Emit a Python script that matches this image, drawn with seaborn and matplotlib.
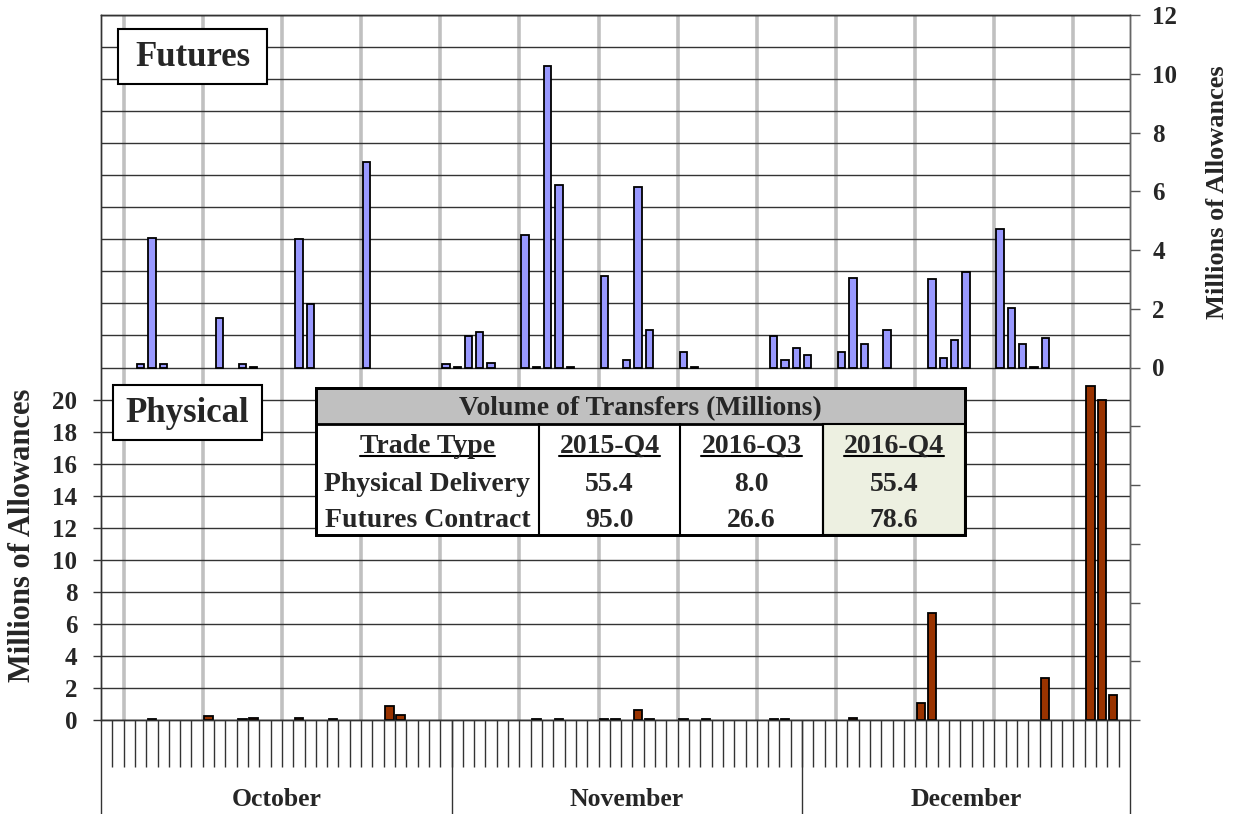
import pandas as pd
import matplotlib
matplotlib.use("Agg")
import matplotlib.pyplot as plt
import seaborn as sns
from matplotlib.patches import Rectangle
from matplotlib.lines import Line2D

# day index 0 = first category of October, 91 daily categories in total
futures_days = [3, 4, 5, 10, 12, 13, 17, 18, 23, 30, 31, 32, 33, 34, 37, 38, 39, 40, 41,
                44, 46, 47, 48, 51, 52, 59, 60, 61, 62, 65, 66, 67, 69, 73, 74, 75, 76,
                79, 80, 81, 82, 83]
futures_vals = [0.12, 4.4, 0.12, 1.67, 0.12, 0.03, 4.38, 2.17, 7.0, 0.12, 0.03, 1.08, 1.21,
                0.15, 4.5, 0.03, 10.26, 6.2, 0.02, 3.13, 0.26, 6.13, 1.26, 0.52, 0.02, 1.08,
                0.24, 0.67, 0.42, 0.53, 3.04, 0.81, 1.28, 3.0, 0.33, 0.94, 3.24, 4.7, 2.02,
                0.81, 0.02, 1.02]
physical_days = [4, 9, 12, 13, 17, 20, 25, 26, 38, 40, 44, 45, 47, 48, 51, 53, 59, 60,
                 66, 72, 73, 83, 87, 88, 89]
physical_vals = [0.05, 0.25, 0.05, 0.1, 0.1, 0.05, 0.9, 0.33, 0.05, 0.05, 0.05, 0.05, 0.62,
                 0.05, 0.05, 0.05, 0.05, 0.05, 0.1, 1.04, 6.69, 2.64, 20.85, 19.95, 1.54]

month_names = ["October", "November", "December"]
month_sizes = [31, 31, 29]

# summary table
table_title = "Volume of Transfers (Millions)"
table_cols = ["Trade Type", "2015-Q4", "2016-Q3", "2016-Q4"]
table_rows = ["Physical Delivery", "Futures Contract"]
physical_delivery = ["55.4", "8.0", "55.4"]
futures_contract = ["95.0", "26.6", "78.6"]

sns.set_style("white")
plt.rcParams["font.family"] = ["Liberation Serif", "DejaVu Serif"]
plt.rcParams["font.weight"] = "bold"

W, H = 1238, 814
fig = plt.figure(figsize=(W / 100, H / 100), dpi=100)


def fx(x):
    return x / W


def fy(y):
    return 1 - y / H


L, R, T, B = 101, 1130, 15, 720
ax = fig.add_axes([fx(L), fy(B), (R - L) / W, (B - T) / H])
ax2 = ax.twinx()

n_days = sum(month_sizes)

# background grid: weekly gray lines and horizontal lines
for b in range(2, n_days, 7):
    ax.axvline(b - 0.5, color="#c0c0c0", lw=2.6, zorder=1)
for v in range(0, 45, 2):
    ax.axhline(v, color="#333333", lw=1.0, zorder=1.5)

phys = pd.DataFrame({"day": physical_days, "volume": physical_vals})
fut = pd.DataFrame({"day": futures_days, "volume": futures_vals})

sns.barplot(data=phys, x="day", y="volume", ax=ax, native_scale=True, width=0.74,
            color="#993300", saturation=1, edgecolor="black", linewidth=1.3,
            errorbar=None, zorder=3)
sns.barplot(data=fut, x="day", y="volume", ax=ax2, native_scale=True, width=0.65,
            color="#9999ff", saturation=1, edgecolor="black", linewidth=1.3,
            errorbar=None, zorder=3)

ax.set_xlim(-0.5, n_days - 0.5)
ax.set_ylim(0, 44)
ax2.set_ylim(-12, 12)
ax.set_xlabel("")
ax.set_ylabel("")
ax2.set_xlabel("")
ax2.set_ylabel("")

# y axes
ax.set_yticks(range(0, 21, 2))
ax.set_yticklabels([str(v) for v in range(0, 21, 2)], fontsize=18, fontweight="bold")
ax.tick_params(axis="y", left=True, direction="out", length=6, width=1, pad=11,
               color="#333333")
r_ticks = list(range(-12, 13, 2))
ax2.set_yticks(r_ticks)
ax2.set_yticklabels([str(v) if v >= 0 else "" for v in r_ticks], fontsize=18, fontweight="bold")
ax2.tick_params(axis="y", right=True, direction="out", length=7, width=1, pad=9,
                color="#555555")

# x axis: day ticks and month separators
ax.xaxis.remove_overlapping_locs = False
ax.set_xticks([b - 0.5 for b in range(1, n_days)])
bounds = [0]
for s in month_sizes:
    bounds.append(bounds[-1] + s)
ax.set_xticks([b - 0.5 for b in bounds], minor=True)
ax.tick_params(axis="x", which="major", bottom=True, direction="out", length=34, width=1,
               color="#333333", labelbottom=False)
ax.tick_params(axis="x", which="minor", bottom=True, direction="out", length=68, width=1,
               color="#333333", labelbottom=False)
for name, start, size in zip(month_names, bounds[:-1], month_sizes):
    ax.text(start + size / 2 - 0.5, (B - 800) / (B - T), name,
            transform=ax.get_xaxis_transform(), ha="center", va="center",
            fontsize=18.5, fontweight="bold")

for a in (ax, ax2):
    for sp in a.spines.values():
        sp.set_color("#333333")
        sp.set_linewidth(1)
ax2.spines["right"].set_color("#666666")


def box(x0, y0, x1, y1, fc, lw=1.5, z=5):
    fig.add_artist(Rectangle((fx(x0), fy(y1)), fx(x1) - fx(x0), fy(y0) - fy(y1),
                             transform=fig.transFigure, fc=fc, ec="black", lw=lw, zorder=z))


# panel labels
box(118, 29, 267, 84, "white")
fig.text(fx(192.5), fy(57), "Futures", ha="center", va="center", fontsize=25,
         fontweight="bold", zorder=6)
box(113, 385, 262, 440, "white")
fig.text(fx(187.5), fy(413), "Physical", ha="center", va="center", fontsize=25,
         fontweight="bold", zorder=6)

# axis titles
fig.text(fx(23), fy(535), "Millions of Allowances", rotation=90, ha="center", va="center",
         fontsize=22, fontweight="bold")
fig.text(fx(1218), fy(192), "Millions of Allowances", rotation=90, ha="center", va="center",
         fontsize=19, fontweight="bold")

# table
tx = [316, 539, 680, 823, 965]
box(316, 388, 965, 535, "white", lw=2)
box(316, 388, 965, 424, "#c0c0c0", lw=2)
box(823, 424, 965, 535, "#edf0e1", lw=1.5)
for x in tx[1:-1]:
    fig.add_artist(Line2D([fx(x), fx(x)], [fy(424), fy(535)], transform=fig.transFigure,
                          color="black", lw=1.5, zorder=5.5))
fig.add_artist(Rectangle((fx(316), fy(535)), fx(965) - fx(316), fy(388) - fy(535),
                         transform=fig.transFigure, fc="none", ec="black", lw=2, zorder=5.6))

fig.text(fx(640), fy(415), table_title, ha="center", va="baseline", fontsize=20,
         fontweight="bold", zorder=6)
centers = [(tx[i] + tx[i + 1]) / 2 for i in range(4)]
head_texts = []
for c, lab in zip(centers, table_cols):
    head_texts.append(fig.text(fx(c), fy(453), lab, ha="center", va="baseline", fontsize=20,
                               fontweight="bold", zorder=6))
for base, lab, vals in zip([491, 527], table_rows, [physical_delivery, futures_contract]):
    fig.text(fx(centers[0]), fy(base), lab, ha="center", va="baseline", fontsize=20,
             fontweight="bold", zorder=6)
    for c, v in zip(centers[1:], vals):
        fig.text(fx(c), fy(base), v, ha="center", va="baseline", fontsize=20,
                 fontweight="bold", zorder=6)

# underline the column headers
fig.canvas.draw()
for t in head_texts:
    bb = t.get_window_extent()
    fig.add_artist(Line2D([bb.x0 / W, bb.x1 / W], [fy(456), fy(456)],
                          transform=fig.transFigure, color="black", lw=1.5, zorder=6))

fig.savefig("out.png", dpi=100)
